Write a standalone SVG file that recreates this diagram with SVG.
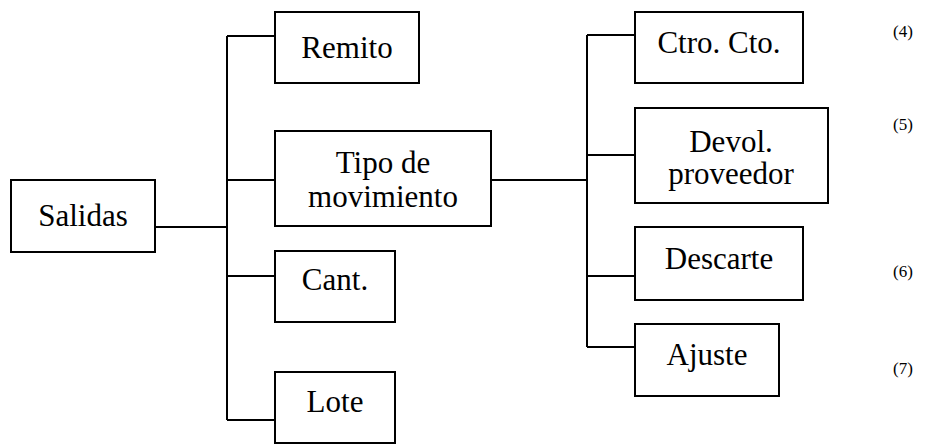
<svg xmlns="http://www.w3.org/2000/svg" width="925" height="444" viewBox="0 0 925 444">
<style>
rect{fill:#fff;stroke:#000;stroke-width:2}
.c path{fill:none;stroke:#000;stroke-width:2}
text{fill:#000;font-family:"Liberation Serif","Times New Roman",serif}
.t{font-size:31px;text-anchor:middle}
.n{font-size:17px}
</style>
<rect x="0" y="0" width="925" height="444" style="stroke:none"/>
<g class="c" id="connectors">
<path d="M155 227H227M227 36V420M227 36H275M227 180H275M227 276H275M227 420H275"/>
<path d="M491 180H587M587 35V347M587 35H635M587 155H635M587 276H635M587 347H635"/>
</g>
<g id="salidas"><rect x="11" y="180" width="144" height="72"/><text class="t" x="83" y="226">Salidas</text></g>
<g id="remito"><rect x="275" y="12" width="144" height="71"/><text class="t" x="347" y="58">Remito</text></g>
<g id="tipo"><rect x="275" y="131" width="216" height="95"/><text class="t" x="383" y="173">Tipo de</text><text class="t" x="383" y="207">movimiento</text></g>
<g id="cant"><rect x="275" y="251" width="120" height="71"/><text class="t" x="335" y="290">Cant.</text></g>
<g id="lote"><rect x="275" y="372" width="120" height="71"/><text class="t" x="335" y="412">Lote</text></g>
<g id="ctro"><rect x="635" y="12" width="168" height="71"/><text class="t" x="719" y="53">Ctro. Cto.</text></g>
<g id="devol"><rect x="635" y="108" width="193" height="95"/><text class="t" x="731" y="152">Devol.</text><text class="t" x="731" y="184">proveedor</text></g>
<g id="descarte"><rect x="635" y="227" width="168" height="73"/><text class="t" x="719" y="269">Descarte</text></g>
<g id="ajuste"><rect x="635" y="324" width="144" height="72"/><text class="t" x="707" y="365">Ajuste</text></g>
<g id="notes">
<text class="n" x="893" y="37">(4)</text>
<text class="n" x="893" y="130">(5)</text>
<text class="n" x="893" y="277">(6)</text>
<text class="n" x="893" y="374">(7)</text>
</g>
</svg>
